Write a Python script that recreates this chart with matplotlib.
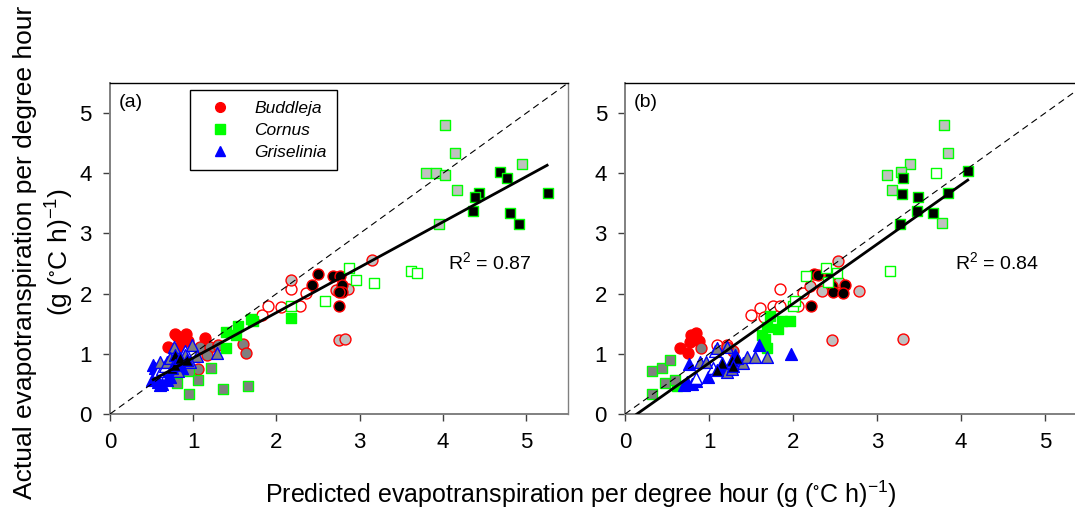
import matplotlib
matplotlib.use('Agg')
import matplotlib.pyplot as plt
from matplotlib.lines import Line2D

plt.rcParams['font.family'] = ['Liberation Sans', 'DejaVu Sans']
plt.rcParams['mathtext.fontset'] = 'custom'
plt.rcParams['mathtext.rm'] = 'Liberation Sans'
plt.rcParams['mathtext.it'] = 'Liberation Sans:italic'

# fill codes: f = species colour, o = open, d = dark grey, l = light grey, k = black

# panel (a) Buddleja
a_bud_x = [0.78, 0.81, 0.91, 0.94, 0.70, 0.80, 1.14, 0.87,
           1.60, 1.63, 1.06, 1.08, 1.20, 1.30, 1.16,
           1.82, 1.90, 2.06, 2.28, 2.18, 2.36,
           2.18, 2.72, 2.86, 3.15, 2.75, 2.82,
           2.50, 2.43, 2.68, 2.76, 2.79, 2.79, 2.75, 2.75]
a_bud_y = [1.33, 1.30, 1.33, 1.22, 1.11, 1.09, 1.27, 1.18,
           1.17, 1.02, 0.74, 1.12, 1.12, 1.15, 0.98,
           1.65, 1.79, 1.77, 1.79, 2.07, 2.01,
           2.22, 2.06, 2.08, 2.56, 1.23, 1.24,
           2.32, 2.15, 2.30, 2.30, 2.15, 2.02, 2.02, 1.80]
a_bud_fill = 'ffffffff' + 'ddddddd' + 'oooooo' + 'llllll' + 'kkkkkkkk'

# panel (a) Cornus
a_cor_x = [1.39, 1.54, 1.69, 1.72, 1.51, 1.39, 2.17,
           0.80, 0.95, 0.95, 1.06, 1.21, 1.36, 1.66,
           2.18, 2.58, 2.87, 2.95, 3.17, 3.62, 3.69,
           4.02, 4.14, 3.80, 3.91, 4.02, 4.17, 4.95, 3.95,
           4.69, 4.77, 4.43, 4.39, 4.36, 4.80, 4.91, 5.26]
a_cor_y = [1.37, 1.47, 1.58, 1.54, 1.32, 1.09, 1.59,
           0.52, 0.34, 0.71, 0.57, 0.76, 0.42, 0.47,
           1.79, 1.87, 2.43, 2.22, 2.18, 2.38, 2.35,
           4.81, 4.33, 4.00, 4.01, 3.97, 3.72, 4.15, 3.16,
           4.02, 3.93, 3.67, 3.61, 3.38, 3.34, 3.15, 3.67]
a_cor_fill = 'fffffff' + 'ddddddd' + 'ooooooo' + 'llllllll' + 'kkkkkkkk'

# panel (a) Griselinia
a_gri_x = [0.52, 0.54, 0.58, 0.60, 0.51, 0.66, 0.68, 0.80, 0.86, 0.54, 0.62, 0.72,
           0.77, 0.99, 1.28, 0.60, 0.68, 0.90, 0.82, 1.04, 0.96, 0.72,
           0.78, 0.74, 0.78, 0.84, 0.92,
           0.58, 0.63, 0.66, 0.90]
a_gri_y = [0.82, 0.65, 0.54, 0.48, 0.57, 0.71, 0.57, 0.84, 0.76, 0.76, 0.50, 0.62,
           1.12, 1.15, 1.01, 0.87, 0.87, 0.98, 0.71, 0.96, 0.87, 0.93,
           0.98, 0.76, 0.82, 0.93, 0.90,
           0.71, 0.74, 0.79, 1.05]
a_gri_fill = 'ffffffffffff' + 'dddddddddd' + 'kkkkk' + 'oooo'

# panel (b) Buddleja
b_bud_x = [0.79, 0.85, 0.83, 0.77, 0.66, 0.75, 0.81, 0.88,
           0.91, 1.28, 1.22,
           1.09, 1.21, 1.50, 1.61, 1.76, 1.84, 1.65, 1.85, 2.12, 2.06,
           2.54, 2.20, 2.34, 2.79, 2.55, 2.46, 3.31,
           2.25, 2.30, 2.44, 2.62, 2.46, 2.48, 2.59, 2.21]
b_bud_y = [1.32, 1.34, 1.24, 1.20, 1.09, 1.01, 1.28, 1.22,
           1.10, 1.05, 1.12,
           1.15, 1.15, 1.65, 1.76, 1.79, 1.80, 1.62, 2.07, 2.01, 1.79,
           2.55, 2.12, 2.05, 2.04, 2.20, 1.23, 1.24,
           2.32, 2.31, 2.30, 2.15, 2.12, 2.02, 2.01, 1.80]
b_bud_fill = 'ffffffff' + 'ddd' + 'oooooooooo' + 'lllllll' + 'kkkkkkkk'

# panel (b) Cornus
b_cor_x = [1.69, 1.63, 1.67, 1.69, 1.82, 1.87, 1.97, 1.73, 0.62,
           0.32, 0.44, 0.54, 0.32, 0.48, 0.60,
           2.00, 2.02, 2.15, 2.39, 2.52, 2.42, 3.15, 3.70,
           3.80, 3.84, 3.39, 3.12, 3.28, 3.18, 3.77,
           3.31, 3.30, 3.49, 3.47, 3.67, 3.27, 3.85, 4.08]
b_cor_y = [1.45, 1.31, 1.25, 1.09, 1.42, 1.54, 1.54, 1.63, 0.46,
           0.72, 0.76, 0.89, 0.34, 0.52, 0.57,
           1.79, 1.87, 2.29, 2.43, 2.34, 2.20, 2.38, 4.00,
           4.81, 4.33, 4.15, 3.97, 4.02, 3.73, 3.17,
           3.93, 3.66, 3.61, 3.37, 3.34, 3.15, 3.68, 4.03]
b_cor_fill = 'fffffffff' + 'dddddd' + 'oooooooo' + 'lllllll' + 'kkkkkkkk'

# panel (b) Griselinia
b_gri_x = [0.76, 0.74, 0.70, 0.80, 0.99, 1.13, 1.59, 1.31, 1.98, 0.85,
           0.89, 0.97, 1.09, 1.21, 1.41, 1.45, 1.55, 1.69, 1.21, 1.27,
           1.15, 1.27, 1.33, 1.29, 1.09,
           1.07, 0.85, 1.05]
b_gri_y = [0.83, 0.54, 0.48, 0.50, 0.61, 0.76, 1.15, 0.98, 1.00, 0.55,
           0.86, 0.86, 1.09, 1.12, 0.84, 0.95, 0.95, 0.95, 0.70, 0.75,
           0.84, 0.90, 0.93, 0.79, 0.73,
           1.05, 0.60, 0.76]
b_gri_fill = 'ffffffffff' + 'dddddddddd' + 'kkkkk' + 'ooo'

# fitted regression lines: slope, intercept, x range
a_fit = (0.753, 0.18, 0.52, 5.25)
b_fit = (0.987, -0.14, 0.14, 4.08)
r2_values = [0.87, 0.84]
r2_pos = [(4.06, 2.52), (3.93, 2.53)]
panel_tags = ['(a)', '(b)']

species = ['Buddleja', 'Cornus', 'Griselinia']
colors = {'Buddleja': '#ff0000', 'Cornus': '#00ff00', 'Griselinia': '#0000ff'}
markers = {'Buddleja': 'o', 'Cornus': 's', 'Griselinia': '^'}
sizes = {'Buddleja': 62, 'Cornus': 50, 'Griselinia': 72}
faces = {'o': 'white', 'd': '#808080', 'l': '#c0c0c0', 'k': 'black'}


def draw_group(ax, sp, xs, ys, fills):
    col = colors[sp]
    for code in 'fodlk':
        px = [x for x, c in zip(xs, fills) if c == code]
        py = [y for y, c in zip(ys, fills) if c == code]
        if not px:
            continue
        fc = col if code == 'f' else faces[code]
        ax.scatter(px, py, marker=markers[sp], s=sizes[sp], facecolor=fc,
                   edgecolor=col, linewidth=1, zorder=3)


fig = plt.figure(figsize=(10.75, 5.09), dpi=100)
ax_a = fig.add_axes([0.1023, 0.1866, 0.426, 0.6503])
ax_b = fig.add_axes([0.5814, 0.1866, 0.4298, 0.6503])

panels = [
    (ax_a, [(a_bud_x, a_bud_y, a_bud_fill), (a_cor_x, a_cor_y, a_cor_fill), (a_gri_x, a_gri_y, a_gri_fill)], a_fit),
    (ax_b, [(b_bud_x, b_bud_y, b_bud_fill), (b_cor_x, b_cor_y, b_cor_fill), (b_gri_x, b_gri_y, b_gri_fill)], b_fit),
]

for i, (ax, groups, fit) in enumerate(panels):
    for sp, (xs, ys, fl) in zip(species, groups):
        draw_group(ax, sp, xs, ys, fl)
    # 1:1 line
    ax.plot([0, 5.5], [0, 5.5], color='black', lw=0.8, dashes=(6, 4), zorder=4)
    slope, icpt, x0, x1 = fit
    ax.plot([x0, x1], [slope * x0 + icpt, slope * x1 + icpt], color='black', lw=2, zorder=5)
    ax.text(r2_pos[i][0], r2_pos[i][1], 'R$^2$ = %.2f' % r2_values[i], fontsize=14, va='center')
    ax.text(0.02, 0.94, panel_tags[i], transform=ax.transAxes, fontsize=14, va='center')

    ax.set_xlim(0, 5.5)
    ax.set_ylim(0, 5.5)
    ax.set_xticks(range(6))
    ax.set_yticks(range(6))
    ax.tick_params(direction='out', length=5, width=1, labelsize=16, color='#404040', pad=8)
    for side in ['left', 'bottom', 'right']:
        ax.spines[side].set_color('#808080')
    ax.spines['left'].set_linewidth(1.4)
    ax.spines['bottom'].set_linewidth(1.4)
    ax.spines['right'].set_linewidth(1)
    ax.spines['top'].set_linewidth(1)
    ax.spines['top'].set_color('black')

handles = [Line2D([], [], marker=markers[sp], color=colors[sp], linestyle='none', markersize=7)
           for sp in species]
leg = ax_a.legend(handles, species, loc='upper left', bbox_to_anchor=(0.175, 0.978),
                  prop={'style': 'italic', 'size': 12.5}, fancybox=False, edgecolor='black',
                  framealpha=1, borderpad=0.6, labelspacing=0.4, handletextpad=0.9,
                  borderaxespad=0, handlelength=2.2)
leg.get_frame().set_linewidth(1)

fig.text(0.54, 0.028, 'Predicted evapotranspiration per degree hour (g ($\\mathregular{^{\\circ}}$C h)$\\mathregular{^{-1}}$)',
         fontsize=18, ha='center', va='center')
fig.text(0.0414, 0.505, 'Actual evapotranspiration per degree hour\n(g ($\\mathregular{^{\\circ}}$C h)$\\mathregular{^{-1}}$)',
         fontsize=19, rotation=90, ha='center', va='center', multialignment='center', linespacing=1.3)

fig.savefig('out.png', dpi=100)
